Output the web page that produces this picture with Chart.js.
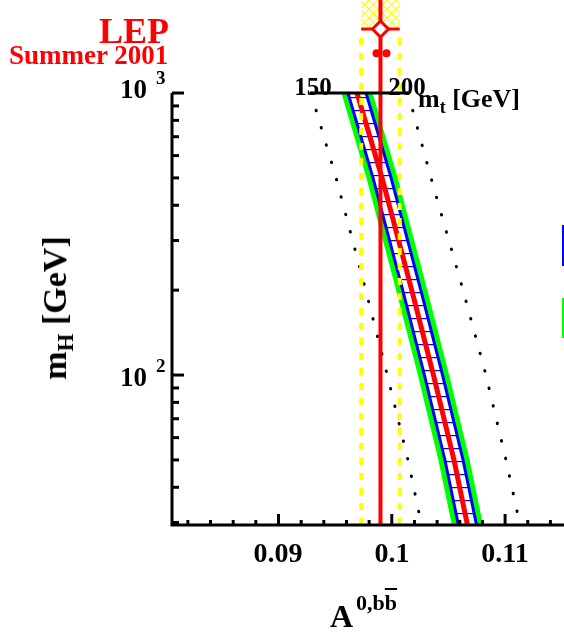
<!DOCTYPE html>
<html>
<head>
<meta charset="utf-8">
<script src="https://cdn.jsdelivr.net/npm/chart.js@4.4.0/dist/chart.umd.min.js"></script>
<style>
body { margin: 0; background: #fff; }
#wrap { position: relative; width: 564px; height: 635px; overflow: hidden; }
#wrap canvas { position: absolute; left: 0; top: 0; }
.lbl { position: absolute; font-family: "Liberation Serif", "Times New Roman", serif; font-weight: bold; white-space: nowrap; line-height: 1; color: #000; }
.sup { position: relative; }
</style>
</head>
<body>
<div id="wrap">
  <canvas id="chart" width="564" height="635"></canvas>

  <div class="lbl" style="left:99px;top:13px;font-size:36px;color:#ff0000">LEP</div>
  <div class="lbl" style="left:9px;top:42px;font-size:27px;color:#ff0000">Summer 2001</div>

  <div class="lbl" style="left:120px;top:76px;font-size:27px">10<span class="sup" style="font-size:19px;top:-14px;margin-left:9px">3</span></div>
  <div class="lbl" style="left:120px;top:364px;font-size:27px">10<span class="sup" style="font-size:19px;top:-14px;margin-left:9px">2</span></div>

  <div class="lbl" style="left:228px;top:539px;width:100px;text-align:center;font-size:28px">0.09</div>
  <div class="lbl" style="left:342px;top:539px;width:100px;text-align:center;font-size:28px">0.1</div>
  <div class="lbl" style="left:455px;top:539px;width:100px;text-align:center;font-size:28px">0.11</div>

  <div class="lbl" style="left:330px;top:600px;font-size:32px">A<span class="sup" style="font-size:22px;top:-17px;margin-left:3px">0,b<span style="text-decoration:overline">b</span></span></div>

  <div class="lbl" style="left:55px;top:308px;font-size:34px;transform:translate(-50%,-50%) rotate(-90deg)">m<span class="sup" style="font-size:23px;top:7px">H</span> [GeV]</div>

  <div class="lbl" style="left:288px;top:74px;width:50px;text-align:center;font-size:25px">150</div>
  <div class="lbl" style="left:382px;top:74px;width:50px;text-align:center;font-size:25px">200</div>
  <div class="lbl" style="left:418px;top:86px;font-size:26px">m<span class="sup" style="font-size:18px;top:6px">t</span> [GeV]</div>
</div>

<script>
// Higgs mass values where the predictions are read (GeV)
const mhPoints = [1000, 500, 200, 100, 50, 29.4];
// SM prediction, central value of A(0,bb)
const smCentre = [0.09693, 0.09914, 0.10176, 0.10368, 0.10549, 0.10668];
// dotted lines for mt = 150 and 200 GeV
const mt150Line = [0.09287, 0.09508, 0.09770, 0.09960, 0.10143, 0.10262];
const mt200Line = [0.10143, 0.10346, 0.10629, 0.10831, 0.11008, 0.11132];
const greenHalfWidth = 0.00138;
const blueHalfWidth = 0.0008;

// LEP measurement
const lepValue = 0.0990;
const lepError = 0.0017;
const lepMarkerMH = 1686;
const lepBoxBottomMH = 1714;
const lepDashTopMH = 1632;
const otherPointsA = [0.09865, 0.09953];
const otherPointsMH = [1383, 1383];

// mt scale drawn at the top of the frame
const mtAxisA = [0.09287, 0.10143];
const mtAxisMH = 1000;

// axis ranges and ticks
const xMin = 0.0806, xMax = 0.1152;
const yMin = 29.4, yMax = 2137, yAxisTop = 1000;
const xMajorTicks = [0.09, 0.1, 0.11];
const xMinorTicks = [0.082, 0.084, 0.086, 0.088, 0.092, 0.094, 0.096, 0.098,
                     0.102, 0.104, 0.106, 0.108, 0.112, 0.114];
const yMajorTicks = [100, 1000];
const yMinorTicks = [30, 40, 50, 60, 70, 80, 90, 200, 300, 400, 500, 600, 700, 800, 900];

function makePattern(w, h, draw) {
    const c = document.createElement('canvas');
    c.width = w; c.height = h;
    const g = c.getContext('2d');
    g.fillStyle = '#ffffff';
    g.fillRect(0, 0, w, h);
    draw(g);
    return g.createPattern(c, 'repeat');
}

const blueHatch = makePattern(10, 13, function (g) {
    g.fillStyle = '#0000ff';
    g.fillRect(0, 6, 10, 1.2);
});

const yellowCross = makePattern(9, 9, function (g) {
    g.strokeStyle = '#ffff00';
    g.lineWidth = 1.2;
    g.beginPath();
    g.moveTo(0, 0); g.lineTo(9, 9);
    g.moveTo(0, 9); g.lineTo(9, 0);
    g.stroke();
});

function edge(values, offset) {
    return mhPoints.map((m, i) => ({ x: values[i] + offset, y: m }));
}

function band(half) {
    return edge(smCentre, -half).concat(edge(smCentre, half).reverse());
}

const clear = 'rgba(0,0,0,0)';

const datasets = [
    { data: band(greenHalfWidth), fill: 'shape', backgroundColor: '#00ff00', borderColor: clear, borderWidth: 1, order: 20 },
    { data: band(blueHalfWidth), fill: 'shape', backgroundColor: blueHatch, borderColor: clear, borderWidth: 1, order: 19 },
    { data: edge(smCentre, -blueHalfWidth), borderColor: '#0000ff', borderWidth: 3, order: 18 },
    { data: edge(smCentre, blueHalfWidth), borderColor: '#0000ff', borderWidth: 3, order: 18 },
    { data: edge(smCentre, 0), borderColor: '#ff0000', borderWidth: 5, order: 17 },
    { data: edge(mt150Line, 0), borderColor: '#000', borderWidth: 3, borderDash: [0.5, 17.5], borderCapStyle: 'round', order: 16 },
    { data: edge(mt200Line, 0), borderColor: '#000', borderWidth: 3, borderDash: [0.5, 17.5], borderCapStyle: 'round', order: 16 },
    { data: [{ x: lepValue - lepError, y: lepBoxBottomMH }, { x: lepValue + lepError, y: lepBoxBottomMH },
             { x: lepValue + lepError, y: yMax }, { x: lepValue - lepError, y: yMax }],
      fill: 'shape', backgroundColor: yellowCross, borderColor: clear, borderWidth: 1, order: 15 },
    { data: [{ x: lepValue - lepError, y: yMin }, { x: lepValue - lepError, y: lepDashTopMH }],
      borderColor: '#ffff00', borderWidth: 4, borderDash: [7, 8], order: 14 },
    { data: [{ x: lepValue + lepError, y: yMin }, { x: lepValue + lepError, y: lepDashTopMH }],
      borderColor: '#ffff00', borderWidth: 4, borderDash: [7, 8], order: 14 },
    { data: [{ x: lepValue, y: yMin }, { x: lepValue, y: yMax }], borderColor: '#ff0000', borderWidth: 4, order: 13 },
    { data: [{ x: lepValue - lepError, y: lepMarkerMH }, { x: lepValue + lepError, y: lepMarkerMH }],
      borderColor: '#ff0000', borderWidth: 3, order: 12 },
    { data: [{ x: lepValue, y: lepMarkerMH }], showLine: false, pointStyle: 'rectRot', pointRadius: 8,
      pointBackgroundColor: '#ffffff', pointBorderColor: '#ff0000', pointBorderWidth: 3, order: 11 },
    { data: otherPointsA.map((a, i) => ({ x: a, y: otherPointsMH[i] })), showLine: false, pointRadius: 4,
      pointBackgroundColor: '#ff0000', pointBorderColor: '#ff0000', pointBorderWidth: 0, order: 11 },
    { data: mtAxisA.map(a => ({ x: a, y: mtAxisMH })), borderColor: '#000', borderWidth: 3, order: 10 }
];

const frame = {
    id: 'frame',
    afterDatasetsDraw(chart) {
        const ctx = chart.ctx;
        const area = chart.chartArea;
        const x = chart.scales.x, y = chart.scales.y;
        const top = y.getPixelForValue(yAxisTop);

        ctx.save();
        ctx.strokeStyle = '#000';
        ctx.lineWidth = 3;
        ctx.beginPath();
        ctx.moveTo(area.left, top);
        ctx.lineTo(area.left, area.bottom);
        ctx.lineTo(area.right, area.bottom);
        ctx.stroke();

        function tick(x1, y1, x2, y2) {
            ctx.beginPath();
            ctx.moveTo(x1, y1);
            ctx.lineTo(x2, y2);
            ctx.stroke();
        }
        yMajorTicks.forEach(v => { const p = y.getPixelForValue(v); tick(area.left, p, area.left + 12, p); });
        yMinorTicks.forEach(v => { const p = y.getPixelForValue(v); tick(area.left, p, area.left + 7, p); });
        xMajorTicks.forEach(v => { const p = x.getPixelForValue(v); tick(p, area.bottom, p, area.bottom - 11); });
        xMinorTicks.forEach(v => { const p = x.getPixelForValue(v); tick(p, area.bottom, p, area.bottom - 5); });

        // legend swatches, cut by the right edge
        ctx.fillStyle = '#0000ff';
        ctx.fillRect(area.right - 2, 225, 2, 41);
        ctx.fillStyle = '#00ff00';
        ctx.fillRect(area.right - 2, 298, 2, 40);
        ctx.restore();
    }
};

new Chart(document.getElementById('chart'), {
    type: 'line',
    data: { datasets: datasets },
    options: {
        responsive: false,
        animation: false,
        layout: { autoPadding: false, padding: { left: 172, right: 0, top: 0, bottom: 110 } },
        scales: {
            x: { type: 'linear', min: xMin, max: xMax, display: false },
            y: { type: 'logarithmic', min: yMin, max: yMax, display: false }
        },
        elements: { point: { radius: 0 }, line: { tension: 0 } },
        plugins: { legend: { display: false }, tooltip: { enabled: false } }
    },
    plugins: [frame]
});
</script>
</body>
</html>
